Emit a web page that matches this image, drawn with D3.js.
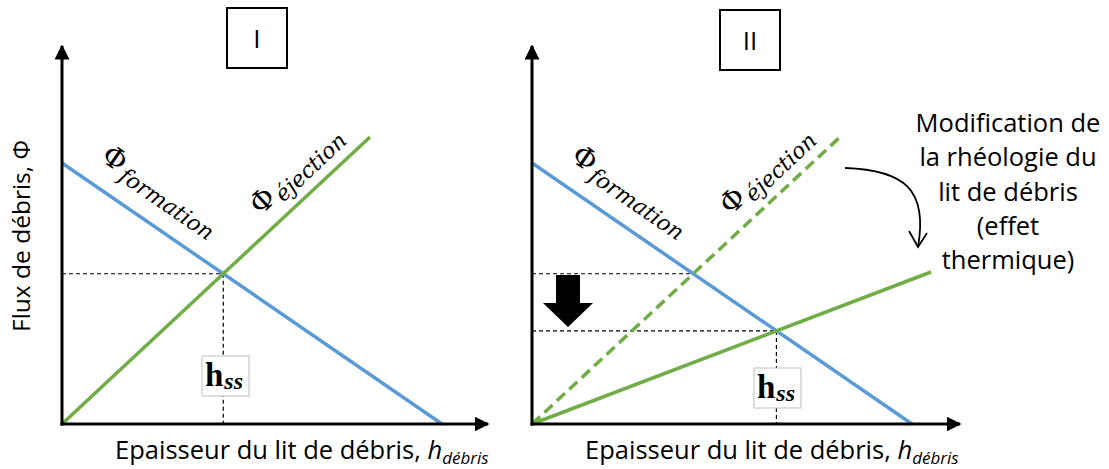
<!DOCTYPE html>
<html>
<head>
  <meta charset="utf-8">
  <style>
    body { margin: 0; background: #fff; }
    svg { display: block; }
    .sans { font-family: "Open Sans", Lato, sans-serif; fill: #000; }
    .math { font-family: "DejaVu Serif", "Liberation Serif", serif; fill: #000; }
    .times { font-family: "Liberation Serif", serif; fill: #000; }
  </style>
</head>
<body>
  <svg id="chart" width="1109" height="469"></svg>

  <script src="https://d3js.org/d3.v7.min.js"></script>
  <script>
    // data (arbitrary units, x = thickness, y = flux)
    const panelNames = ["I", "II"];
    const formationLine = [[0, 6.525], [9.5, 0]];
    const ejectionLine = [[0, 0], [7.7, 7.175]];
    const ejectionThermal = [[0, 0], [9.975, 3.8]];
    const xTitle = "Epaisseur du lit de débris, ";
    const yTitle = "Flux de débris, Φ";
    const noteLines = ["Modification de", "la rhéologie du", "lit de débris", "(effet", "thermique)"];

    const blue = "#5b9bd5", green = "#70ad47";
    const svg = d3.select("#chart");

    const panelLeft = [62, 532];
    const panelBox = [[227, 8], [720, 10]];
    const hssBox = [[202, 356], [754, 368]];

    function slope(l) { return (l[1][1] - l[0][1]) / (l[1][0] - l[0][0]); }
    function cross(a, b) {
      const ma = slope(a), mb = slope(b);
      const x = (b[0][1] - a[0][1] + ma * a[0][0] - mb * b[0][0]) / (ma - mb);
      return [x, a[0][1] + ma * (x - a[0][0])];
    }

    svg.append("defs").append("marker")
      .attr("id", "tri")
      .attr("viewBox", "0 0 10 10")
      .attr("refX", 9).attr("refY", 5)
      .attr("markerWidth", 5).attr("markerHeight", 5)
      .attr("markerUnits", "strokeWidth")
      .attr("orient", "auto")
      .append("path").attr("d", "M0,0 L10,5 L0,10 Z").attr("fill", "#000");

    panelNames.forEach((name, i) => {
      const x = d3.scaleLinear().domain([0, 10]).range([panelLeft[i], panelLeft[i] + 400]);
      const y = d3.scaleLinear().domain([0, 10]).range([424, 24]);
      const g = svg.append("g");
      const line = d3.line().x(d => x(d[0])).y(d => y(d[1]));

      // panel title box
      g.append("rect")
        .attr("x", panelBox[i][0]).attr("y", panelBox[i][1])
        .attr("width", 60).attr("height", 60)
        .attr("fill", "none").attr("stroke", "#000").attr("stroke-width", 2);
      g.append("text").attr("class", "sans")
        .attr("x", panelBox[i][0] + 30).attr("y", panelBox[i][1] + 40)
        .attr("text-anchor", "middle").attr("font-size", 26)
        .text(name);

      // guides
      const dash = "4,3";
      const hits = i === 0 ? [cross(formationLine, ejectionLine)]
                           : [cross(formationLine, ejectionLine), cross(formationLine, ejectionThermal)];
      hits.forEach(p => {
        g.append("line")
          .attr("x1", x(0)).attr("x2", x(p[0]))
          .attr("y1", y(p[1])).attr("y2", y(p[1]))
          .attr("stroke", "#000").attr("stroke-width", 1.2).attr("stroke-dasharray", dash);
      });
      const ss = hits[hits.length - 1];
      g.append("line")
        .attr("x1", x(ss[0])).attr("x2", x(ss[0]))
        .attr("y1", y(ss[1])).attr("y2", y(0))
        .attr("stroke", "#000").attr("stroke-width", 1.2).attr("stroke-dasharray", dash);

      // lines
      g.append("path").attr("d", line(formationLine))
        .attr("stroke", blue).attr("stroke-width", 3.5).attr("fill", "none");
      g.append("path").attr("d", line(ejectionLine))
        .attr("stroke", green).attr("stroke-width", 3.5).attr("fill", "none")
        .attr("stroke-dasharray", i === 0 ? null : "11,6");
      if (i === 1) {
        g.append("path").attr("d", line(ejectionThermal))
          .attr("stroke", green).attr("stroke-width", 3.5).attr("fill", "none");
      }

      // axes
      g.append("line")
        .attr("x1", x(0)).attr("y1", y(0) + 1.5).attr("x2", x(0)).attr("y2", 46)
        .attr("stroke", "#000").attr("stroke-width", 3).attr("marker-end", "url(#tri)");
      g.append("line")
        .attr("x1", x(0) - 1.5).attr("y1", y(0)).attr("x2", x(0) + (i === 0 ? 426 : 428)).attr("y2", y(0))
        .attr("stroke", "#000").attr("stroke-width", 3).attr("marker-end", "url(#tri)");

      // x title
      const xt = g.append("text").attr("class", "sans")
        .attr("x", x(0) + 53).attr("y", 459).attr("font-size", 25.5);
      xt.append("tspan").text(xTitle);
      xt.append("tspan").attr("font-style", "italic").text("h");
      xt.append("tspan").attr("font-style", "italic").attr("font-size", 17).attr("dy", 5).text("débris");

      // line labels
      function label(l, t, off, sub) {
        const ang = Math.atan2(y(l[1][1]) - y(l[0][1]), x(l[1][0]) - x(l[0][0])) * 180 / Math.PI;
        const px = x(t), py = y(l[0][1] + slope(l) * (t - l[0][0]));
        const tx = g.append("text").attr("class", "math")
          .attr("transform", `translate(${px},${py}) rotate(${ang})`)
          .attr("y", -off).attr("font-size", 29);
        tx.append("tspan").text("Φ");
        tx.append("tspan").attr("font-style", "italic").attr("font-size", 22).attr("dy", 6).attr("dx", 2).text(sub);
      }
      label(formationLine, 0.6, 24, "formation");
      label(ejectionLine, 5.25, 17, "éjection");

      // h_ss box
      g.append("rect")
        .attr("x", hssBox[i][0]).attr("y", hssBox[i][1])
        .attr("width", 47).attr("height", 40)
        .attr("fill", "#fff").attr("stroke", "#bfbfbf").attr("stroke-width", 1);
      const ht = g.append("text").attr("class", "times")
        .attr("x", hssBox[i][0] + 3).attr("y", hssBox[i][1] + 30);
      ht.append("tspan").attr("font-weight", "bold").attr("font-size", 33).text("h");
      ht.append("tspan").attr("font-style", "italic").attr("font-weight", "bold").attr("font-size", 24).attr("dy", 3).attr("dx", 1).text("ss");

      if (i === 1) {
        // block arrow (drop in flux)
        const cx = x(0.9);
        const top = y(3.725), neck = y(3.025), tip = y(2.425);
        g.append("path")
          .attr("d", `M${cx - 12},${top} L${cx + 12},${top} L${cx + 12},${neck} L${cx + 25},${neck} L${cx},${tip} L${cx - 25},${neck} L${cx - 12},${neck} Z`)
          .attr("fill", "#000");

        // note
        const nt = g.append("text").attr("class", "sans")
          .attr("text-anchor", "middle").attr("font-size", 25.5);
        noteLines.forEach((s, k) => {
          nt.append("tspan").attr("x", 1008).attr("y", 132 + k * 34.3).text(s);
        });

        // curved arrow
        g.append("path")
          .attr("d", "M845,168 C905,170 928,190 918,247")
          .attr("fill", "none").attr("stroke", "#000").attr("stroke-width", 1.8);
        g.append("path")
          .attr("d", "M909,231 L918,247 L927,233")
          .attr("fill", "none").attr("stroke", "#000").attr("stroke-width", 1.8);
      }
    });

    // y title
    svg.append("text").attr("class", "sans")
      .attr("transform", "translate(30,236) rotate(-90)")
      .attr("text-anchor", "middle").attr("font-size", 24.5)
      .text(yTitle);
  </script>
</body>
</html>
